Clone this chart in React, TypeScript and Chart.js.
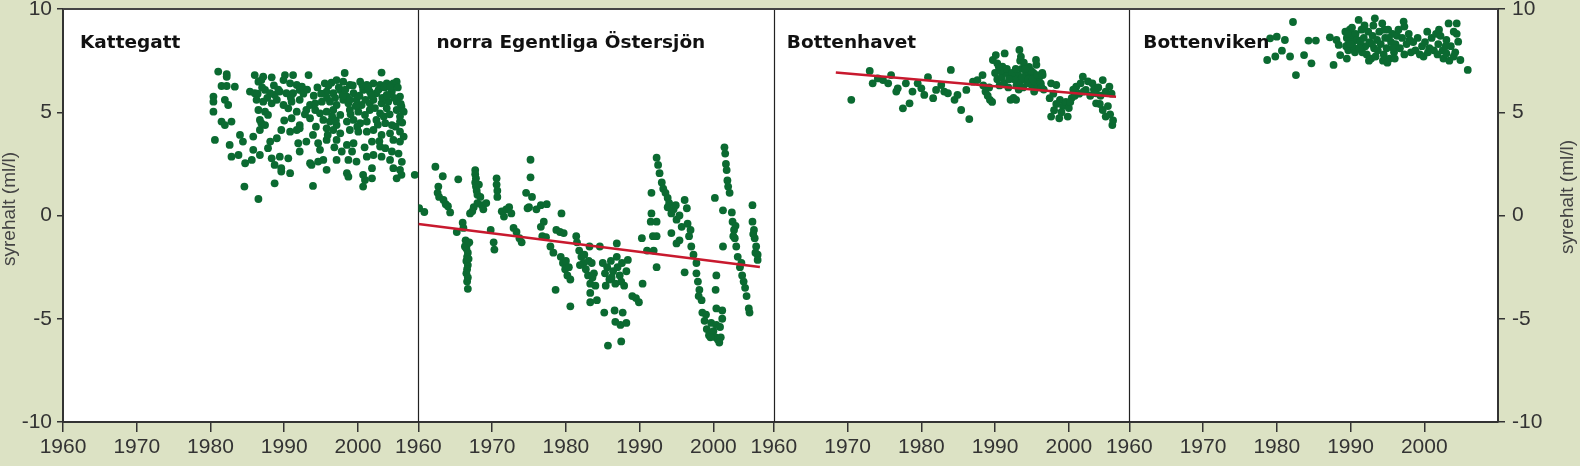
import React, { useEffect, useRef } from 'react';
import { Chart, registerables } from 'chart.js';

Chart.register(...registerables);

type Pt = [number, number];

const YEAR_TICKS = [1960, 1970, 1980, 1990, 2000];
const Y_TICKS = [-10, -5, 0, 5, 10];
const PANEL_NAMES = ['Kattegatt', 'norra Egentliga Östersjön', 'Bottenhavet', 'Bottenviken'];
const PANEL_MIN = 1960;
const PANEL_MAX = [2008.2, 2008.2, 2008.2, 2010];
const Y_TITLE = 'syrehalt (ml/l)';

const kattegatt: Pt[] = [
  [1981.05, 6.97], [1982.2, 6.85], [1982.2, 6.72], [1986.0, 6.8], [1987.15, 6.72], [1988.3, 6.69], [1990.1, 6.8], [1991.2, 6.8], [1993.3, 6.8], [1998.2, 6.9], [2003.2, 6.92],
  [1981.5, 6.27], [1982.2, 6.27], [1983.3, 6.24], [1986.5, 6.48], [1986.9, 6.56], [1989.9, 6.56], [1990.8, 6.4], [1991.7, 6.32], [1992.4, 6.24], [1995.5, 6.4], [1996.4, 6.43], [1997.1, 6.56], [1998.0, 6.48], [1998.9, 6.32], [2000.3, 6.48], [2001.2, 6.32], [2002.1, 6.4], [2003.0, 6.32], [2003.9, 6.4], [2004.8, 6.4], [2005.25, 6.48],
  [1980.4, 5.76], [1985.35, 6.0], [1986.0, 5.92], [1987.4, 6.08], [1988.1, 5.92], [1988.7, 5.84], [1989.4, 6.0], [1990.3, 5.92], [1991.2, 5.92], [1992.1, 6.08], [1995.75, 6.0], [1996.65, 5.92], [1997.6, 6.08], [1998.5, 5.76], [1999.4, 5.92], [2000.7, 6.08], [2001.6, 6.0], [2002.5, 5.92], [2003.9, 5.84], [2004.6, 6.0], [2005.7, 5.76],
  [1980.4, 5.51], [1981.95, 5.6], [1986.25, 5.6], [1987.15, 5.51], [1988.3, 5.43], [1989.0, 5.6], [1989.9, 5.35], [1991.0, 5.51], [1992.1, 5.6], [1993.5, 5.35], [1994.2, 5.43], [1995.1, 5.51], [1996.2, 5.51], [1997.1, 5.35], [1998.0, 5.6], [1998.7, 5.43], [1999.8, 5.6], [2000.5, 5.35], [2001.6, 5.43], [2002.1, 5.6], [2003.2, 5.43], [2004.1, 5.51], [2005.25, 5.51], [2005.9, 5.27],
  [1980.4, 5.03], [1982.4, 5.35], [1986.5, 5.11], [1987.4, 5.03], [1987.8, 4.87], [1990.55, 5.19], [1991.7, 5.03], [1993.0, 5.11], [1994.2, 5.11], [1994.85, 4.95], [1995.75, 5.03], [1996.65, 5.11], [1997.6, 4.87], [1998.9, 5.11], [2000.05, 5.03], [2000.95, 4.87], [2001.6, 5.11], [2003.0, 4.95], [2003.9, 5.19], [2005.25, 5.11], [2006.2, 5.03], [2005.7, 4.79],
  [1981.5, 4.55], [1981.95, 4.38], [1982.85, 4.55], [1986.7, 4.63], [1986.9, 4.47], [1987.4, 4.38], [1991.0, 4.71], [1992.1, 4.38], [1993.5, 4.71], [1995.3, 4.63], [1996.2, 4.55], [1997.1, 4.38], [1998.5, 4.55], [1999.4, 4.63], [2000.3, 4.47], [2001.2, 4.55], [2002.5, 4.63], [2003.7, 4.47], [2004.6, 4.38], [2005.7, 4.55],
  [1986.7, 4.14], [1989.6, 4.14], [1990.8, 4.06], [1991.7, 4.14], [1992.1, 4.22], [1993.9, 3.9], [1995.75, 4.22], [1996.65, 4.14], [1997.6, 3.98], [1998.9, 4.14], [2000.05, 4.06], [2001.2, 4.06], [2002.1, 4.14], [2003.2, 3.9], [2004.35, 3.98], [2005.7, 4.06], [2006.2, 3.82],
  [1980.6, 3.66], [1984.0, 3.9], [1984.4, 3.58], [1985.8, 3.82], [1988.1, 3.58], [1989.0, 3.74], [1991.9, 3.5], [1993.0, 3.58], [1994.6, 3.5], [1995.75, 3.66], [1997.1, 3.66], [1998.5, 3.42], [1999.4, 3.5], [2001.9, 3.58], [2003.0, 3.34], [2003.7, 3.26], [2004.8, 3.66], [2005.7, 3.58],
  [1982.6, 3.42], [1982.85, 2.85], [1983.8, 2.93], [1984.7, 2.53], [1985.8, 3.18], [1985.6, 2.69], [1986.7, 2.93], [1987.8, 3.26], [1988.3, 2.77], [1989.4, 2.85], [1990.55, 2.77], [1992.1, 3.1], [1993.5, 2.53], [1994.85, 3.18], [1995.3, 2.69], [1997.1, 2.69], [1997.8, 3.1], [1998.7, 2.69], [1999.8, 2.61], [2001.2, 2.85], [2002.1, 2.93], [2003.2, 2.85], [2004.35, 2.69], [2005.5, 3.0],
  [1988.7, 2.45], [1989.6, 2.29], [1990.8, 2.05], [1989.6, 2.13], [1993.7, 2.45], [1994.6, 2.61], [1995.75, 2.21], [1998.5, 2.05], [1998.7, 1.88], [2000.7, 1.97], [2000.95, 1.72], [2001.9, 2.29], [2001.9, 1.8], [2004.8, 2.29], [2005.7, 2.21], [2005.9, 1.97], [2005.25, 1.8], [2007.7, 1.97],
  [1984.6, 1.4], [1993.9, 1.43], [1988.7, 1.56], [2000.7, 1.4], [1986.5, 0.8],
  [1994.0, 5.8], [1994.5, 6.2], [1995.0, 5.9], [1995.8, 5.7], [1996.0, 6.3], [1996.9, 5.7], [1997.4, 6.2], [1997.9, 5.8], [1998.3, 6.1], [1998.9, 5.6], [1999.3, 6.3], [1999.7, 5.3], [2000.2, 5.8], [2000.6, 6.3], [2001.0, 5.6], [2001.4, 6.2], [2001.8, 5.8], [2002.3, 5.2], [2002.8, 6.1], [2003.3, 5.7], [2003.6, 6.2], [2004.0, 5.8], [2004.4, 6.2], [2004.9, 5.7], [2005.4, 6.2], [2005.8, 5.4],
  [1996.5, 4.8], [1997.0, 4.6], [1999.0, 4.9], [1999.9, 4.3], [2002.7, 4.4], [2003.5, 4.8], [2004.3, 4.9], [2005.1, 4.3], [2006.0, 4.5], [1988.6, 6.3], [1989.2, 6.1], [1987.7, 5.7], [1990.9, 5.7], [1992.6, 5.9], [1993.1, 6.1], [1986.4, 5.9], [1987.0, 6.2],
  [1994.3, 4.3], [1995.9, 3.9], [1996.8, 3.3], [1999.2, 3.1], [2000.9, 3.3], [2002.9, 3.6], [2004.6, 3.1], [2005.95, 2.6], [1992.8, 4.9], [1990.0, 4.6],
];

const egentliga: Pt[] = [
  [1960.1, 0.35], [1960.8, 0.17], [1962.3, 2.36], [1963.3, 1.9], [1965.4, 1.75], [1962.7, 1.4], [1962.6, 1.1], [1962.8, 0.9], [1963.4, 0.75], [1963.7, 0.55], [1964.0, 0.45], [1964.3, 0.15], [1966.0, -0.35], [1966.1, -0.6], [1965.2, -0.8],
  [1967.7, 2.2], [1967.7, 2.0], [1967.8, 1.8], [1967.7, 1.6], [1967.8, 1.4], [1967.9, 1.2], [1968.0, 1.0], [1968.2, 1.5], [1968.4, 0.9], [1968.0, 0.6], [1967.5, 0.4], [1967.3, 0.2], [1967.0, 0.1], [1968.6, 0.5], [1968.8, 0.3], [1969.2, 0.6],
  [1966.4, -1.2], [1966.6, -1.4], [1966.5, -1.6], [1966.7, -1.8], [1966.6, -2.0], [1966.5, -2.2], [1966.7, -2.4], [1966.6, -2.6], [1966.5, -2.8], [1966.7, -3.0], [1966.6, -3.2], [1966.7, -3.55], [1966.3, -1.5], [1966.9, -1.3], [1966.8, -2.1],
  [1969.8, -0.7], [1970.2, -1.3], [1970.3, -1.65], [1970.6, 1.8], [1970.6, 1.5], [1970.7, 1.2], [1970.7, 0.9],
  [1971.3, 0.2], [1971.9, 0.3], [1972.3, 0.4], [1972.6, 0.1], [1971.6, -0.05], [1972.9, -0.6], [1973.3, -0.8], [1973.7, -1.1], [1974.0, -1.3],
  [1975.2, 2.7], [1975.2, 1.85], [1974.6, 1.1], [1975.4, 0.9], [1975.0, 0.4], [1974.8, 0.35],
  [1976.0, 0.3], [1976.6, 0.5], [1977.4, 0.55], [1977.0, -0.3], [1976.6, -0.55], [1976.8, -1.0], [1977.3, -1.05], [1977.9, -1.5], [1978.3, -1.8], [1978.6, -3.6],
  [1979.4, 0.1], [1978.7, -0.7], [1979.2, -0.8], [1979.7, -0.85],
  [1979.3, -2.0], [1979.6, -2.3], [1979.9, -2.6], [1980.2, -2.9], [1980.6, -3.1], [1980.0, -2.2], [1980.4, -2.5], [1980.6, -4.4], [1981.4, -1.0], [1981.5, -1.3],
  [1981.8, -1.7], [1982.1, -2.0], [1982.4, -2.3], [1982.7, -2.6], [1983.0, -2.9], [1983.3, -3.3], [1981.9, -2.4], [1982.5, -1.9], [1983.1, -2.2], [1983.3, -3.75], [1983.3, -4.2],
  [1983.2, -1.5], [1983.5, -2.3], [1983.8, -2.8], [1984.0, -3.4], [1984.2, -4.1], [1983.6, -3.0], [1984.6, -1.5],
  [1985.0, -2.3], [1985.3, -2.8], [1985.6, -2.5], [1985.9, -3.1], [1986.1, -2.2], [1986.4, -2.7], [1986.7, -3.3], [1987.0, -2.5], [1987.3, -2.9], [1987.6, -2.3], [1987.9, -3.4], [1988.2, -2.7], [1985.4, -3.4], [1986.2, -3.0], [1986.9, -2.0], [1987.5, -3.2],
  [1986.9, -1.35], [1988.4, -2.15], [1985.2, -4.7], [1986.6, -4.6], [1987.7, -4.7], [1986.7, -5.15], [1987.4, -5.3], [1988.2, -5.2], [1985.7, -6.3], [1987.5, -6.1],
  [1989.0, -3.9], [1989.9, -4.2], [1990.4, -3.3], [1989.5, -4.0], [1990.3, -1.1], [1991.0, -1.7], [1991.9, -1.7], [1992.3, -2.5],
  [1991.6, 0.1], [1991.5, -0.3], [1991.8, -1.0], [1992.3, -1.0], [1992.3, -0.3], [1991.6, 1.1],
  [1992.3, 2.8], [1992.5, 2.45], [1992.7, 2.05], [1993.0, 1.6], [1993.2, 1.3], [1993.5, 1.1], [1993.8, 0.85],
  [1993.8, 0.4], [1994.3, 0.1], [1994.6, 0.3], [1995.0, -0.2], [1995.4, 0.0], [1995.7, -0.55], [1994.0, 0.6], [1994.9, 0.5], [1994.3, -0.85], [1995.0, -1.35], [1995.4, -1.2],
  [1996.1, 0.75], [1996.4, 0.35], [1996.5, -0.4], [1996.7, -1.0], [1997.0, -1.5], [1997.3, -1.9], [1997.7, -2.3], [1996.9, -0.7], [1996.1, -2.75],
  [1997.7, -2.8], [1997.9, -3.2], [1998.1, -3.6], [1998.4, -4.1], [1998.0, -3.9],
  [1998.5, -4.7], [1998.8, -5.1], [1999.1, -5.5], [1999.4, -5.8], [1999.7, -5.2], [2000.0, -5.6], [2000.3, -5.9], [2000.6, -6.0], [2000.9, -5.4], [2001.2, -5.0], [1999.0, -4.8], [1999.6, -5.9], [2000.4, -5.3], [2001.0, -5.9], [2001.2, -4.6], [2000.8, -6.15],
  [2000.4, -2.9], [2000.3, -3.6], [2000.4, -4.5], [2000.2, 0.85],
  [2001.5, 3.3], [2001.6, 3.0], [2001.7, 2.5], [2001.8, 2.2], [2001.9, 1.7], [2002.0, 1.4], [2002.2, 1.1], [2001.3, 0.25], [2001.3, -1.5],
  [2002.5, 0.15], [2002.6, -0.3], [2002.8, -0.7], [2002.9, -1.1], [2003.1, -1.5], [2003.3, -2.0], [2002.7, -1.0], [2003.0, -0.5],
  [2003.6, -2.5], [2003.9, -2.9], [2004.1, -3.2], [2004.3, -3.5], [2004.5, -3.9], [2003.8, -2.3], [2004.9, -4.7], [2004.8, -4.5],
  [2005.3, 0.5], [2005.3, -0.3], [2005.5, -0.7], [2005.6, -1.1], [2005.8, -1.5], [2006.0, -1.9], [2006.0, -2.15], [2005.4, -0.9], [2005.7, -1.8],
];

const bottenhavet: Pt[] = [
  [1970.5, 5.6], [1973.0, 7.0], [1973.4, 6.4], [1974.1, 6.64], [1974.8, 6.56], [1975.5, 6.4], [1975.9, 6.8], [1976.6, 6.0], [1976.8, 6.16], [1977.5, 5.19], [1978.4, 5.43], [1977.9, 6.4],
  [1978.8, 6.0], [1979.5, 6.4], [1980.0, 6.16], [1980.4, 5.84], [1980.9, 6.7], [1981.6, 5.68], [1982.0, 6.08], [1982.7, 6.32], [1983.1, 6.0], [1983.6, 5.92], [1984.0, 7.05],
  [1984.5, 5.6], [1984.9, 5.84], [1985.4, 5.11], [1986.1, 6.08], [1986.5, 4.67], [1987.0, 6.48], [1987.6, 6.56], [1988.3, 6.8],
  [1988.4, 6.3], [1988.7, 6.0], [1989.0, 5.8], [1989.3, 5.6], [1989.6, 5.5], [1989.2, 6.2],
  [1989.7, 7.53], [1990.1, 7.77], [1991.3, 7.85], [1990.3, 7.37], [1991.0, 7.21],
  [1990.0, 6.9], [1990.3, 6.6], [1990.6, 6.3], [1990.9, 6.7], [1991.2, 6.4], [1991.5, 6.9], [1991.8, 6.2], [1990.8, 7.0], [1991.6, 7.1],
  [1992.1, 5.6], [1992.85, 5.6], [1992.5, 5.7], [1993.3, 8.02], [1993.5, 7.69], [1993.4, 7.5],
  [1992.9, 6.3], [1993.1, 6.8], [1993.4, 6.5], [1993.6, 7.1], [1993.8, 6.2], [1994.0, 6.6], [1994.2, 6.9], [1994.4, 6.4], [1994.6, 7.2], [1994.8, 6.7], [1995.0, 6.3], [1995.2, 6.9], [1995.4, 6.5], [1995.6, 7.3], [1995.8, 6.2], [1996.0, 6.7], [1996.2, 6.4], [1996.4, 6.9], [1996.6, 6.1], [1993.9, 7.4], [1994.9, 7.0], [1995.3, 6.0], [1992.6, 6.6], [1992.3, 6.9],
  [1993.2, 6.1], [1993.7, 6.7], [1994.1, 7.1], [1994.5, 6.6], [1995.1, 6.6], [1995.7, 6.8], [1996.3, 6.2], [1992.8, 7.1], [1991.9, 6.6], [1990.5, 7.2],
  [1995.55, 7.53], [1996.45, 6.8],
  [1997.6, 6.4], [1998.3, 6.32], [1997.4, 5.68], [1997.6, 4.79], [1998.7, 4.71], [1999.85, 4.79],
  [1998.8, 5.6], [1999.2, 5.3], [1999.6, 5.5], [2000.0, 5.2], [2000.4, 5.7], [1998.0, 5.1], [1998.3, 5.4], [1997.9, 5.9], [1999.0, 5.0], [2000.2, 5.5],
  [2001.0, 6.24], [2001.9, 6.72], [2002.3, 6.08], [2003.2, 6.4], [2003.7, 5.92], [2004.6, 6.56], [2005.5, 6.24],
  [2000.8, 5.8], [2001.4, 5.9], [2001.6, 6.4], [2002.0, 6.0], [2002.6, 6.5], [2002.9, 5.8], [2003.4, 6.1], [2004.0, 6.2], [2004.3, 5.8], [2005.0, 6.0], [2005.8, 5.9], [2000.6, 6.1],
  [2003.7, 5.43], [2004.6, 5.11], [2005.0, 4.79], [2005.9, 4.38], [2005.6, 4.9], [2005.3, 5.3], [2004.2, 5.4], [2006.0, 4.6],
];

const bottenviken: Pt[] = [
  [1982.2, 9.37], [1979.1, 8.58], [1980.0, 8.66], [1981.1, 8.5], [1978.7, 7.53], [1979.8, 7.7], [1980.7, 7.98], [1981.8, 7.7], [1982.6, 6.8], [1983.7, 7.77], [1984.7, 7.37], [1984.3, 8.47], [1985.3, 8.47],
  [1987.2, 8.63], [1988.1, 8.5], [1988.4, 8.26], [1987.7, 7.29], [1988.6, 7.77], [1989.5, 7.6], [1989.7, 8.0],
  [1989.3, 8.9], [1989.5, 8.6], [1989.7, 8.3], [1989.9, 9.0], [1990.1, 8.7], [1990.3, 8.4], [1990.5, 8.1], [1990.7, 8.8], [1990.9, 8.5], [1989.4, 8.2], [1990.2, 9.1], [1990.6, 7.9],
  [1991.1, 9.47],
  [1991.5, 9.0], [1991.8, 8.6], [1992.0, 8.2], [1992.2, 7.8], [1992.4, 8.9], [1992.6, 8.4], [1992.8, 7.6], [1993.0, 8.7], [1993.2, 8.1], [1993.4, 7.7], [1993.6, 8.5], [1991.6, 7.9], [1992.5, 7.5], [1991.3, 8.4],
  [1993.3, 9.55], [1993.1, 9.2],
  [1993.9, 8.9], [1994.1, 8.3], [1994.3, 9.3], [1994.5, 7.8], [1994.7, 8.6], [1994.9, 8.1], [1995.1, 9.0], [1995.3, 7.6], [1995.5, 8.4], [1995.7, 8.8], [1995.9, 7.9], [1996.1, 8.3], [1996.3, 8.7], [1994.4, 7.5], [1995.0, 7.4], [1996.0, 7.6],
  [1991.2, 8.1], [1991.9, 9.2], [1992.9, 8.3], [1993.7, 8.0], [1994.6, 9.0], [1995.2, 8.6], [1995.8, 8.1], [1996.5, 9.0], [1990.0, 8.3], [1989.6, 8.8],
  [1997.2, 9.39], [1997.3, 9.15],
  [1996.7, 8.1], [1997.0, 8.6], [1997.3, 7.8], [1997.6, 8.3], [1997.9, 8.8], [1998.2, 7.9], [1998.5, 8.4], [1998.8, 8.0], [1999.1, 8.6], [1999.4, 7.8], [1999.7, 8.2], [1999.9, 7.7], [1998.0, 8.5],
  [2000.1, 8.4], [2000.4, 8.9], [2000.7, 8.1], [2001.0, 8.6], [2001.3, 8.0], [2001.6, 8.8], [2001.9, 8.3], [2002.2, 8.7], [2002.5, 8.0], [2000.5, 7.9], [2001.8, 7.8], [2002.0, 9.0],
  [2003.3, 9.3], [2004.4, 9.3], [2004.4, 8.8], [2004.6, 8.42], [2003.0, 8.5], [2003.6, 8.2], [2004.0, 8.9],
  [2002.6, 7.6], [2003.0, 7.85], [2003.4, 7.5], [2004.0, 7.7], [2004.9, 7.53], [2005.9, 7.05], [2002.9, 8.2], [2004.2, 7.9],
];

const trendEgentliga: Pt[] = [[1960, -0.41], [2006.3, -2.49]];
const trendBottenhavet: Pt[] = [[1968.4, 6.92], [2006.4, 5.75]];

const SERIES: Pt[][] = [kattegatt, egentliga, bottenhavet, bottenviken];
const TRENDS: { panel: number; data: Pt[] }[] = [
  { panel: 2, data: trendEgentliga },
  { panel: 3, data: trendBottenhavet },
];

const BG = '#dce2c4';
const DOT = '#0b6a31';
const TREND = '#c8192e';
const AXIS = '#333333';
const TICK_FONT = { family: '"Liberation Sans", Arial, sans-serif', size: 21 };
const TITLE_OFFSETS = [17, 18, 13, 14];

const decorPlugin = {
  id: 'decor',
  beforeDraw(chart: any) {
    const { ctx, chartArea: a } = chart;
    ctx.save();
    ctx.fillStyle = '#ffffff';
    ctx.fillRect(a.left, a.top, a.right - a.left, a.bottom - a.top);
    ctx.restore();
  },
  beforeDatasetsDraw(chart: any) {
    const { ctx, chartArea: a } = chart;
    ctx.save();
    ctx.strokeStyle = '#222222';
    ctx.lineWidth = 1.2;
    for (let i = 2; i <= 4; i++) {
      const s = chart.scales['x' + i];
      const x = Math.round(s.left) + 0.5;
      ctx.beginPath();
      ctx.moveTo(x, a.top);
      ctx.lineTo(x, a.bottom);
      ctx.stroke();
    }
    ctx.strokeStyle = '#444444';
    ctx.lineWidth = 2;
    ctx.beginPath();
    ctx.moveTo(a.left, a.top);
    ctx.lineTo(a.right, a.top);
    ctx.stroke();
    ctx.restore();
  },
  afterDatasetsDraw(chart: any) {
    const { ctx } = chart;
    ctx.save();
    ctx.fillStyle = '#111111';
    ctx.font = 'bold 18.5px "DejaVu Sans", sans-serif';
    ctx.textAlign = 'left';
    ctx.textBaseline = 'alphabetic';
    PANEL_NAMES.forEach((name, i) => {
      const s = chart.scales['x' + (i + 1)];
      ctx.fillText(name, s.left + TITLE_OFFSETS[i], 48);
    });
    ctx.restore();
  },
  afterDraw(chart: any) {
    const { ctx } = chart;
    ctx.save();
    ctx.fillStyle = '#444444';
    ctx.font = '19px "Liberation Sans", Arial, sans-serif';
    ctx.textAlign = 'center';
    ctx.textBaseline = 'middle';
    const put = (x: number, y: number) => {
      ctx.save();
      ctx.translate(x, y);
      ctx.rotate(-Math.PI / 2);
      ctx.fillText(Y_TITLE, 0, 0);
      ctx.restore();
    };
    put(10, 209);
    put(1568, 197);
    ctx.restore();
  },
};

function buildConfig(): any {
  const datasets: any[] = [];
  TRENDS.forEach((t) => {
    datasets.push({
      type: 'scatter',
      data: t.data.map(([x, y]) => ({ x, y })),
      xAxisID: 'x' + t.panel,
      yAxisID: 'y',
      showLine: true,
      borderColor: TREND,
      borderWidth: 2.5,
      pointRadius: 0,
      order: 0,
    });
  });
  SERIES.forEach((pts, i) => {
    datasets.push({
      type: 'scatter',
      data: pts.map(([x, y]) => ({ x, y })),
      xAxisID: 'x' + (i + 1),
      yAxisID: 'y',
      backgroundColor: DOT,
      borderWidth: 0,
      pointRadius: 3.9,
      pointHoverRadius: 3.9,
      order: 1,
    });
  });

  const scales: any = {};
  PANEL_MAX.forEach((max, i) => {
    scales['x' + (i + 1)] = {
      type: 'linear',
      position: 'bottom',
      stack: 'years',
      stackWeight: max - PANEL_MIN,
      min: PANEL_MIN,
      max,
      afterBuildTicks: (s: any) => {
        s.ticks = YEAR_TICKS.map((v) => ({ value: v }));
      },
      afterFit: (s: any) => {
        s.height = 44;
        s.paddingLeft = 0;
        s.paddingRight = 0;
      },
      ticks: {
        autoSkip: false,
        maxRotation: 0,
        minRotation: 0,
        padding: 3,
        color: AXIS,
        font: TICK_FONT,
        callback: (v: any) => String(v),
      },
      grid: { drawOnChartArea: false, drawTicks: true, tickLength: 10, color: AXIS, lineWidth: 1.5 },
      border: { display: true, color: AXIS, width: 2 },
    };
  });
  const yCommon = (pos: 'left' | 'right', width: number, pad: number, tl: number) => ({
    type: 'linear',
    position: pos,
    min: -10,
    max: 10,
    afterBuildTicks: (s: any) => {
      s.ticks = Y_TICKS.map((v) => ({ value: v }));
    },
    afterFit: (s: any) => {
      s.width = width;
      s.paddingTop = 0;
      s.paddingBottom = 0;
    },
    ticks: { padding: pad, color: AXIS, font: TICK_FONT, callback: (v: any) => String(v) },
    grid: { drawOnChartArea: false, drawTicks: true, tickLength: tl, color: AXIS, lineWidth: 1.5 },
    border: { display: true, color: AXIS, width: 2 },
  });
  scales.y = yCommon('left', 63, 5, 6);
  scales.y2 = yCommon('right', 82, 7, 7);

  return {
    type: 'scatter',
    data: { datasets },
    options: {
      responsive: false,
      animation: false,
      devicePixelRatio: 1,
      events: [],
      layout: { padding: { top: 9, left: 0, right: 0, bottom: 0 } },
      plugins: { legend: { display: false }, tooltip: { enabled: false }, title: { display: false } },
      scales,
    },
    plugins: [decorPlugin],
  };
}

export default function App() {
  const ref = useRef<HTMLCanvasElement | null>(null);
  useEffect(() => {
    if (!ref.current) return;
    const chart = new Chart(ref.current, buildConfig());
    return () => chart.destroy();
  }, []);
  return (
    <div style={{ position: 'fixed', left: 0, top: 0, width: 1580, height: 466, background: BG }}>
      <canvas ref={ref} width={1580} height={466} style={{ display: 'block' }} />
    </div>
  );
}
